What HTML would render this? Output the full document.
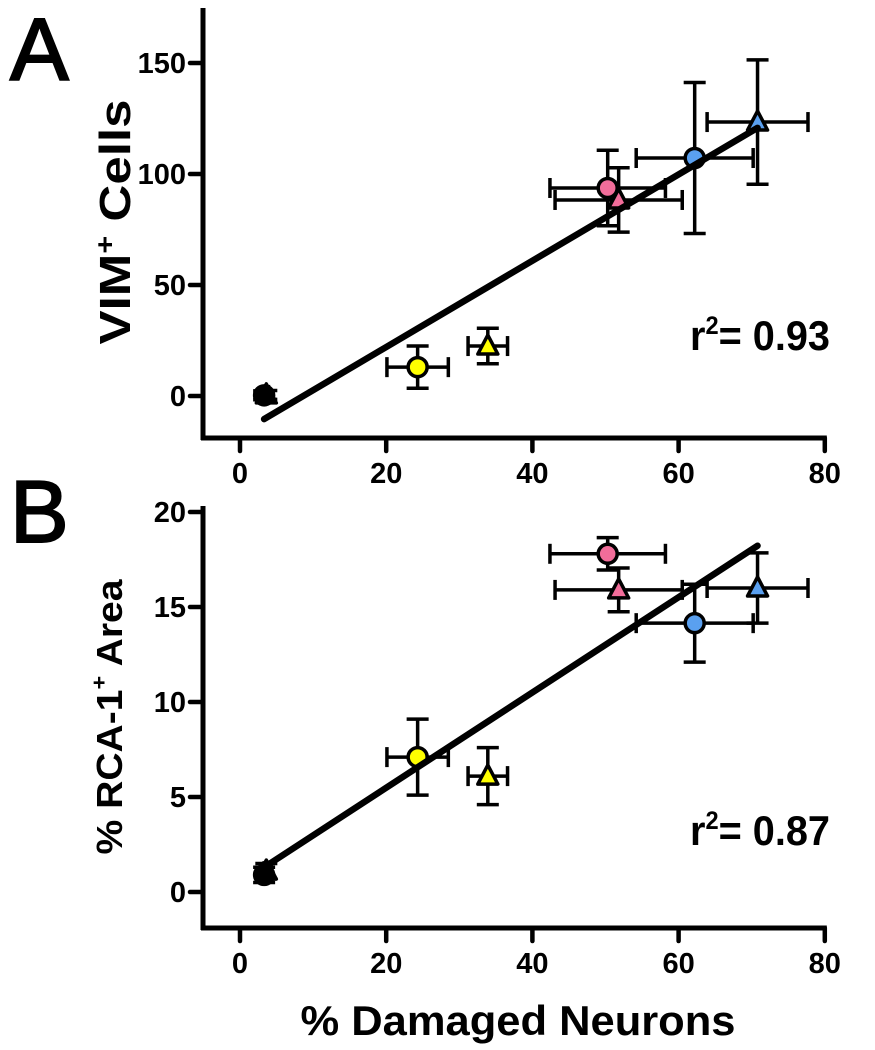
<!DOCTYPE html>
<html><head><meta charset="utf-8"><style>
body{margin:0;background:#fff;}
svg{display:block;font-family:"Liberation Sans",Arial,sans-serif;font-weight:bold;}
</style></head><body>
<svg id="chart" width="875" height="1050" viewBox="0 0 875 1050" xmlns="http://www.w3.org/2000/svg"></svg>
<script>
// Shared data
const groups = ['ctrl-circle','ctrl-triangle','yellow-circle','yellow-triangle','pink-circle','pink-triangle','blue-circle','blue-triangle'];
const shapes = ['circle','triangle','circle','triangle','circle','triangle','circle','triangle'];
const colors = ['#000','#000','#ffff00','#ffff00','#f26d9a','#f26d9a','#5aa0f0','#5aa0f0'];
const xVals = [3.3, 3.6, 24.3, 33.9, 50.3, 51.8, 62.2, 70.8];
const xErr  = [0.3, 0.3, 4.2, 2.7, 7.9, 8.7, 8.0, 6.9];
const vimVals = [0.3, 0.5, 13, 22.5, 93.7, 88.3, 107.2, 123.4];
const vimErr  = [2, 2, 9.5, 8, 17, 14.5, 34, 28];
const rcaVals = [0.9, 1.1, 7.1, 6.1, 17.8, 15.9, 14.15, 16.0];
const rcaErr  = [0.4, 0.4, 2.0, 1.5, 0.85, 1.15, 2.05, 1.85];
const xTicks = [0, 20, 40, 60, 80];
const vimTicks = [0, 50, 100, 150];
const rcaTicks = [0, 5, 10, 15, 20];
const r2Labels = ['0.93', '0.87'];

const svg = document.getElementById('chart');
const NS = 'http://www.w3.org/2000/svg';
function mk(tag, attrs, parent){
  const e = document.createElementNS(NS, tag);
  for (const k in attrs) e.setAttribute(k, attrs[k]);
  (parent||svg).appendChild(e);
  return e;
}
const xScale = v => 240 + v * 7.31;

function panel(cfg){
  const g = mk('g', {});
  
  
  const yS = v => cfg.y0 - v * cfg.ppu;
  const ya = mk('line', {x1:203, y1:cfg.top, x2:203, y2:cfg.axisY+2, stroke:'#000','stroke-width':5}, g);
  
  
  const xa = mk('line', {x1:201, y1:cfg.axisY, x2:xScale(80)+2, y2:cfg.axisY, stroke:'#000','stroke-width':5}, g);
  
  
  xTicks.forEach(t => {
    mk('line', {x1:xScale(t), y1:cfg.axisY, x2:xScale(t), y2:cfg.axisY+13, stroke:'#000','stroke-width':4.5,'stroke-linecap':'round'}, g);
    const tx = mk('text', {x:xScale(t), y:cfg.axisY+45, 'text-anchor':'middle','font-size':29}, g);
    tx.textContent = t;
    
    
  });
  cfg.ticks.forEach(t => {
    mk('line', {x1:190, y1:yS(t), x2:203, y2:yS(t), stroke:'#000','stroke-width':4.5,'stroke-linecap':'round'}, g);
    const tx = mk('text', {x:186, y:yS(t)+10, 'text-anchor':'end','font-size':29}, g);
    tx.textContent = t;
    
    
  });
  xVals.forEach((xv, i) => {
    const px = xScale(xv), py = yS(cfg.vals[i]);
    const eg = mk('g', {stroke:'#000','stroke-width':3.5}, g);
    
    
    const x1 = xScale(xv - xErr[i]), x2 = xScale(xv + xErr[i]);
    const y1 = yS(cfg.vals[i] + cfg.err[i]), y2 = yS(cfg.vals[i] - cfg.err[i]);
    mk('line', {x1:x1, y1:py, x2:x2, y2:py}, eg);
    mk('line', {x1:x1, y1:py-10, x2:x1, y2:py+10}, eg);
    mk('line', {x1:x2, y1:py-10, x2:x2, y2:py+10}, eg);
    mk('line', {x1:px, y1:y1, x2:px, y2:y2}, eg);
    mk('line', {x1:px-11, y1:y1, x2:px+11, y2:y1}, eg);
    mk('line', {x1:px-11, y1:y2, x2:px+11, y2:y2}, eg);
  });
  xVals.forEach((xv, i) => {
    const px = xScale(xv), py = yS(cfg.vals[i]);
    let m;
    if (shapes[i] === 'circle') {
      m = mk('circle', {cx:px, cy:py, r:9.5, fill:colors[i], stroke:'#000','stroke-width':3.5}, g);
    } else {
      m = mk('polygon', {points:`${px},${py-11} ${px+10},${py+8} ${px-10},${py+8}`, fill:colors[i], stroke:'#000','stroke-width':3.5,'stroke-linejoin':'round'}, g);
    }
    
    
  });
  const n = xVals.length;
  const mx = xVals.reduce((a,b)=>a+b,0)/n, my = cfg.vals.reduce((a,b)=>a+b,0)/n;
  let sxy = 0, sxx = 0;
  for (let i=0;i<n;i++){ sxy += (xVals[i]-mx)*(cfg.vals[i]-my); sxx += (xVals[i]-mx)**2; }
  const slope = sxy/sxx, icpt = my - slope*mx;
  const xmin = Math.min(...xVals), xmax = Math.max(...xVals);
  const rl = mk('line', {x1:xScale(xmin), y1:yS(icpt+slope*xmin), x2:xScale(xmax), y2:yS(icpt+slope*xmax), stroke:'#000','stroke-width':6.5,'stroke-linecap':'round'}, g);
  
  
  const r2 = mk('text', {x:690, y:cfg.r2y, 'font-size':42, textLength:140, lengthAdjust:'spacingAndGlyphs'}, g);
  
  
  const t1 = mk('tspan', {}, r2); t1.textContent = 'r';
  const t2 = mk('tspan', {dy:-16, 'font-size':25}, r2); t2.textContent = '2';
  const t3 = mk('tspan', {dy:16}, r2); t3.textContent = '= ' + cfg.r2;
  const pl = mk('text', {x:10, y:cfg.letterY, 'font-size':88, 'font-weight':'normal', stroke:'#000','stroke-width':2}, g);
  pl.textContent = cfg.letter;
  
  
  const yt = mk('text', {x:0, y:0, 'text-anchor':'middle', 'font-size':cfg.titleSize, textLength:cfg.titleLen, lengthAdjust:'spacingAndGlyphs', transform:`translate(${cfg.titleX},${cfg.titleY}) rotate(-90)`}, g);
  
  
  const a = mk('tspan', {}, yt); a.textContent = cfg.title[0];
  const b = mk('tspan', {dy:-16, 'font-size':cfg.titleSize*0.6}, yt); b.textContent = '+';
  const c = mk('tspan', {dy:16}, yt); c.textContent = cfg.title[1];
}

panel({name:'panel-a', top:8, axisY:438, y0:396, ppu:2.22, ticks:vimTicks, vals:vimVals, err:vimErr,
  r2y:350, r2:r2Labels[0], letter:'A', letterY:80, title:['VIM',' Cells'], titleSize:44, titleLen:245, titleX:130, titleY:222});
panel({name:'panel-b', top:506, axisY:928, y0:892, ppu:19, ticks:rcaTicks, vals:rcaVals, err:rcaErr,
  r2y:845, r2:r2Labels[1], letter:'B', letterY:542, title:['% RCA-1',' Area'], titleSize:36, titleLen:275, titleX:122, titleY:717});

const xt = mk('text', {x:518, y:1035, 'text-anchor':'middle', 'font-size':42, textLength:435, lengthAdjust:'spacingAndGlyphs'});
xt.textContent = '% Damaged Neurons';


</script>
</body></html>
